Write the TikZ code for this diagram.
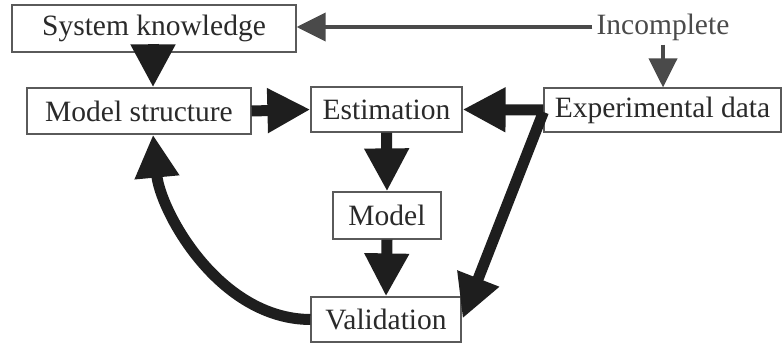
\documentclass[tikz,border=0pt]{standalone}
\usepackage{fontspec}
\setmainfont{Liberation Serif}
\usetikzlibrary{arrows.meta}
\definecolor{boxline}{HTML}{5A5A5A}
\definecolor{txt}{HTML}{2A2A2A}
\definecolor{arr}{HTML}{1E1E1E}
\definecolor{grayarr}{HTML}{4A4A4A}
\begin{document}
\begin{tikzpicture}[x=1pt,y=-1pt,
  box/.style={draw=boxline, line width=1.2pt, fill=white, inner sep=0pt,
    text=txt, font=\fontsize{29.5}{34}\selectfont},
  bigarrow/.style={draw=arr, line width=11pt,
    -{Triangle[length=43pt,width=42pt]}},
  thinarrow/.style={draw=grayarr, line width=4pt,
    -{Triangle[length=29pt,width=28pt]}}]
\useasboundingbox (0,0) rectangle (783,345);
% nodes
\node[box, minimum width=284pt, minimum height=47pt] (sk) at (154,28.5) {System knowledge};
\node[box, minimum width=224pt, minimum height=46pt] (ms) at (139,111) {Model structure};
\node[box, minimum width=151pt, minimum height=45pt] (est) at (386.5,109.5) {Estimation};
\node[box, minimum width=237pt, minimum height=44pt] (exp) at (662.5,110) {Experimental data};
\node[box, minimum width=108pt, minimum height=47pt] (mod) at (387,215.5) {Model};
\node[box, minimum width=150pt, minimum height=45pt] (val) at (386,319.5) {Validation};
\node[inner sep=4pt, text=grayarr, font=\fontsize{29.5}{34}\selectfont] (inc) at (663,27) {Incomplete};
% connectors
\draw[thinarrow] (inc.west) -- (sk.east |- inc.west);
\draw[thinarrow] (inc.south) -- (exp.north -| inc.south);
\draw[bigarrow] ([yshift=9pt,xshift=-1pt]sk.south) -- ([xshift=14pt]ms.north);
\draw[bigarrow] (ms.east) -- (est.west);
\draw[bigarrow] (est.south) -- (mod.north);
\draw[bigarrow] (mod.south) -- (val.north);
\draw[bigarrow] (exp.west) -- (est.east);
\draw[bigarrow] ([yshift=-2pt]exp.west) -- ([xshift=1pt,yshift=1pt]val.east);
\draw[bigarrow] (val.west) .. controls (218,319) and (160,210) .. ([xshift=14pt]ms.south);
\end{tikzpicture}
\end{document}
